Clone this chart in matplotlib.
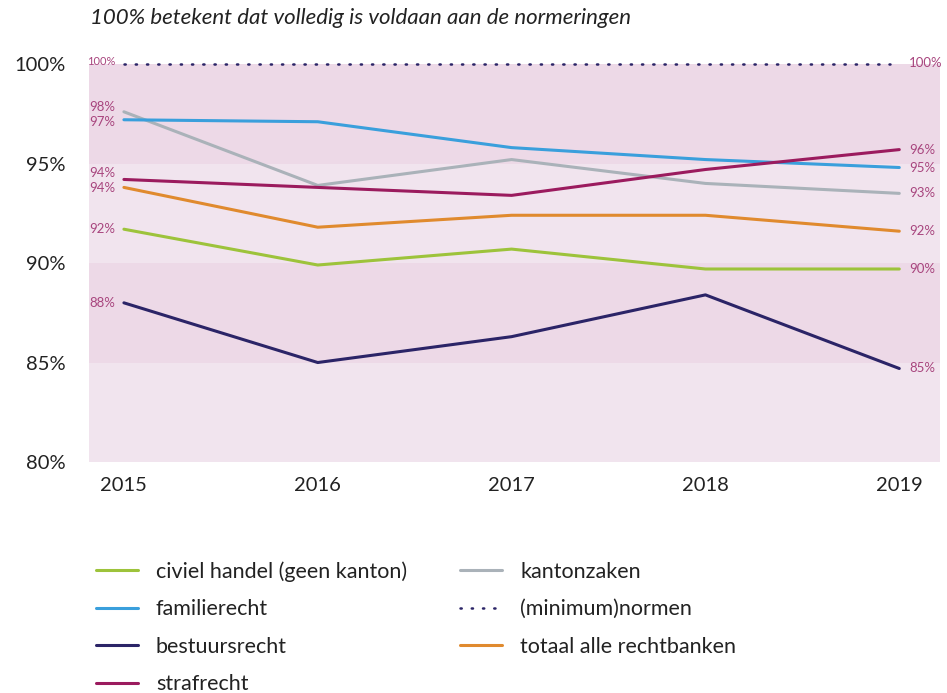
import numpy as np
import matplotlib.pyplot as plt

years = [2015, 2016, 2017, 2018, 2019]
civiel = [91.7, 89.9, 90.7, 89.7, 89.7]
kanton = [97.6, 93.9, 95.2, 94.0, 93.5]
familie = [97.2, 97.1, 95.8, 95.2, 94.8]
bestuur = [88.0, 85.0, 86.3, 88.4, 84.7]
straf = [94.2, 93.8, 93.4, 94.7, 95.7]
totaal = [93.8, 91.8, 92.4, 92.4, 91.6]
norm = [100, 100]
norm_x = [2015, 2018.95]

labels_start = ['92%', '98%', '97%', '88%', '94%', '94%']
labels_end = ['90%', '93%', '95%', '85%', '96%', '92%']
# small vertical nudges (in %-points) so the close labels don't collide
nudge_start = [0, 0.25, -0.1, 0, 0.3, -0.05]

plt.rcParams['font.family'] = ['Lato', 'DejaVu Sans']

fig = plt.figure(figsize=(9.47, 6.93), dpi=100)
ax = fig.add_axes([0.094, 0.3333, 0.8986, 0.5743])

ax.axhspan(95, 100, color='#edd9e7', lw=0, zorder=0)
ax.axhspan(90, 95, color='#f1e4ee', lw=0, zorder=0)
ax.axhspan(85, 90, color='#edd9e7', lw=0, zorder=0)
ax.axhspan(80, 85, color='#f1e4ee', lw=0, zorder=0)

series = [
    ('civiel handel (geen kanton)', civiel, '#9dc33b'),
    ('kantonzaken', kanton, '#aab2b9'),
    ('familierecht', familie, '#3a9fdc'),
    ('bestuursrecht', bestuur, '#2b2467'),
    ('strafrecht', straf, '#9b1b5e'),
    ('totaal alle rechtbanken', totaal, '#e08a2e'),
]
lines = {}
for name, vals, col in series:
    l, = ax.plot(years, vals, color=col, lw=2.2, label=name, solid_capstyle='round')
    lines[name] = l

ln, = ax.plot(norm_x, norm, color='#2b2467', lw=1.8,
              ls=(0, (0.5, 4.0)), dash_capstyle='round', clip_on=False,
              label='(minimum)normen')

lab_col = '#a8457e'
all_vals = [civiel, kanton, familie, bestuur, straf, totaal]
for vals, s, e, dy in zip(all_vals, labels_start, labels_end, nudge_start):
    ax.text(years[0] - 0.045, vals[0] + dy, s, ha='right', va='center', fontsize=9.5, color=lab_col)
    ax.text(years[-1] + 0.05, vals[-1], e, ha='left', va='center', fontsize=9.5, color=lab_col)
ax.text(years[0] - 0.045, 100.15, '100%', ha='right', va='center', fontsize=8, color=lab_col)
ax.text(years[-1] + 0.05, 100.05, '100%', ha='left', va='center', fontsize=9.5, color=lab_col)

ax.set_xlim(2014.82, 2019.21)
ax.set_ylim(80, 100)
ax.set_yticks([80, 85, 90, 95, 100])
ax.set_yticklabels(['80%', '85%', '90%', '95%', '100%'])
ax.set_xticks(years)
ax.set_xticklabels([str(y) for y in years])
ax.tick_params(length=0, labelsize=14.5, colors='#222222')
ax.tick_params(axis='y', pad=17)
ax.tick_params(axis='x', pad=11)
for sp in ax.spines.values():
    sp.set_visible(False)

fig.text(0.095, 0.974, '100% betekent dat volledig is voldaan aan de normeringen',
         fontsize=16, style='italic', color='#222222', va='center')

handles = [lines['civiel handel (geen kanton)'], lines['familierecht'],
           lines['bestuursrecht'], lines['strafrecht'],
           lines['kantonzaken'], ln, lines['totaal alle rechtbanken']]
fig.legend(handles=handles, labels=[h.get_label() for h in handles], ncol=2,
           loc='upper left', bbox_to_anchor=(0.0805, 0.218), frameon=False,
           fontsize=15.5, handlelength=1.95, handletextpad=0.85, columnspacing=2.45,
           labelspacing=0.81, labelcolor='#222222', borderpad=0.4)

fig.savefig('out.png', dpi=100)
